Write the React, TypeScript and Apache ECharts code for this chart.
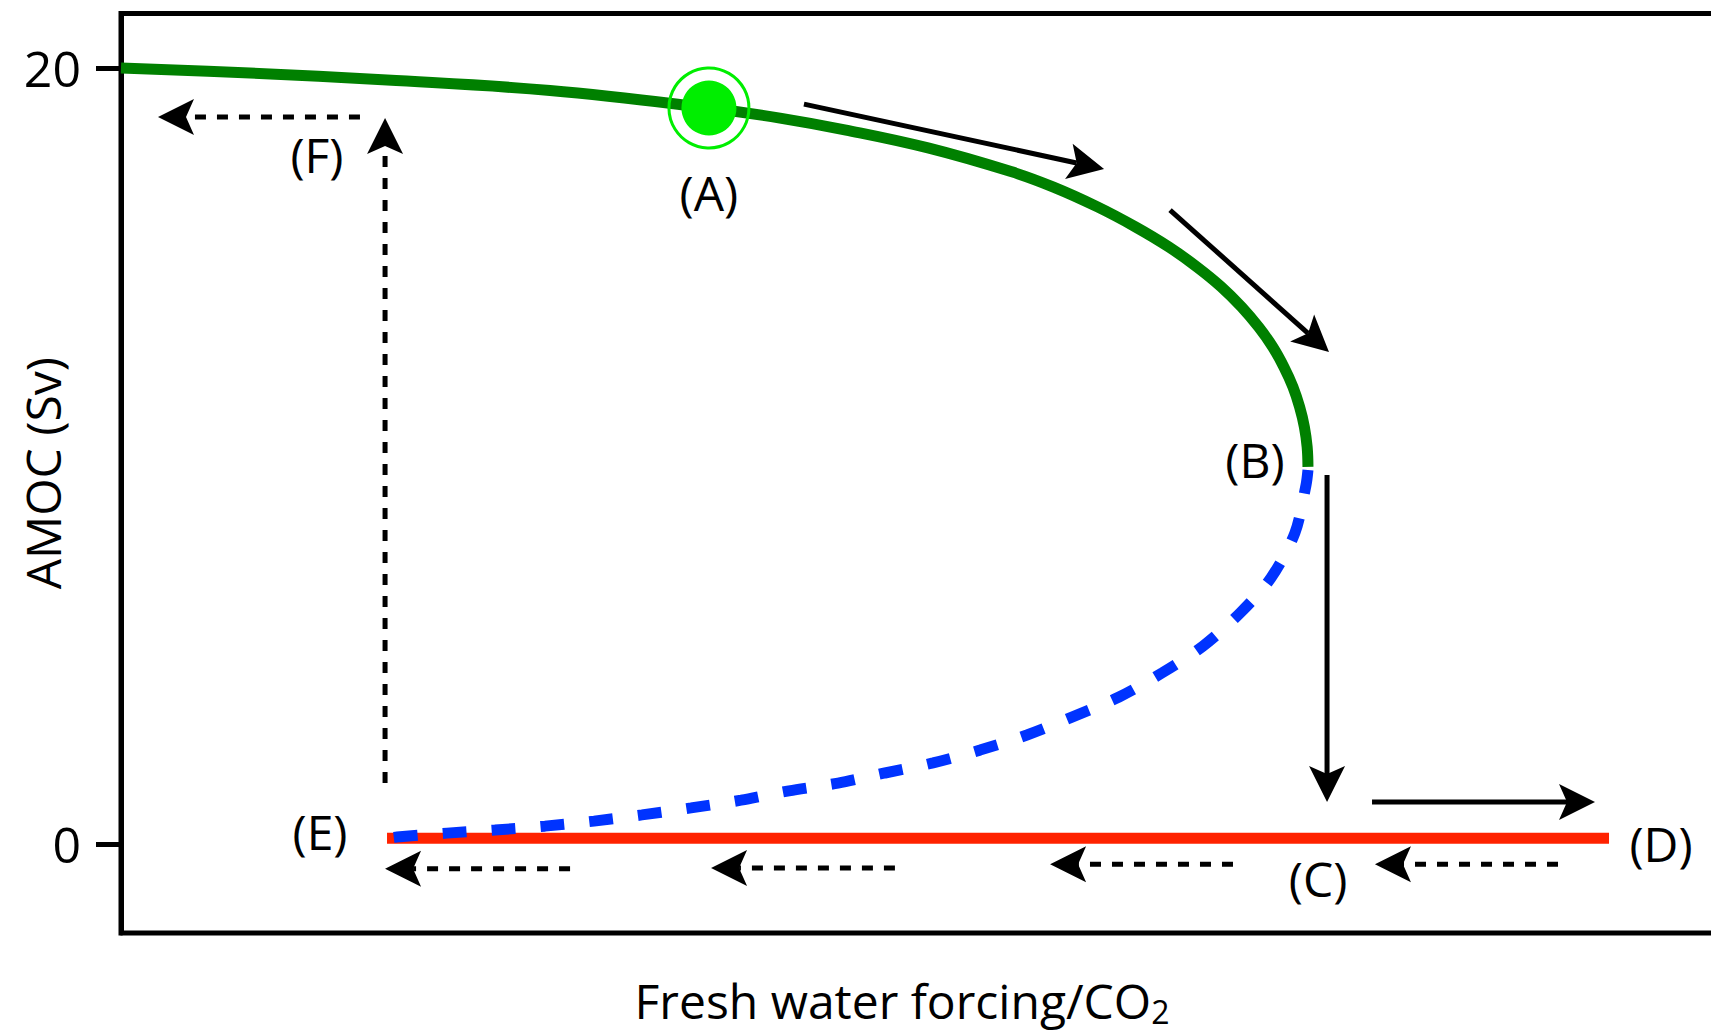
import React, { useEffect, useRef } from 'react';
import * as echarts from 'echarts';

// Axis ticks / range (AMOC in Sv, forcing in arbitrary units)
const yTicks = [0, 20];
const yRange = [-2.294, 21.405];
const xRange = [0, 100];

// Upper stable ("on") branch, green
const onBranch: [number, number][] = [
  [0, 20.0], [7.91, 19.87], [16.32, 19.69], [26.32, 19.42], [36.07, 18.97],
  [40.43, 18.71], [44.48, 18.4], [49.51, 17.94], [54.6, 17.33], [57.21, 16.93],
  [59.91, 16.42], [62.26, 15.9], [64.28, 15.39], [66.02, 14.87], [67.5, 14.36],
  [68.75, 13.84], [69.8, 13.32], [70.66, 12.81], [71.35, 12.29], [71.9, 11.78],
  [72.31, 11.26], [72.6, 10.75], [72.77, 10.23], [72.82, 9.72],
];

// Unstable branch, blue dashed
const unstableBranch: [number, number][] = [
  [72.82, 9.64], [72.7, 9.25], [72.02, 8.02], [70.55, 6.86], [68.65, 5.95], [66.38, 5.1],
  [63.87, 4.41], [61.23, 3.79], [58.34, 3.27], [55.58, 2.81], [52.7, 2.42], [49.82, 2.09],
  [46.87, 1.83], [43.99, 1.57], [40.98, 1.37], [38.04, 1.13], [34.97, 0.93], [31.96, 0.75],
  [29.02, 0.59], [26.01, 0.46], [22.94, 0.36], [20.0, 0.28], [16.93, 0.18], [16.32, 0.15],
];

// Lower stable ("off") branch, red
const offBranch: [number, number][] = [[16.32, 0.15], [91.29, 0.15]];

// Current state (A)
const stateA: [number, number] = [36.07, 18.97];

// Arrows: [xStart, yStart, xEnd, yEnd]
const solidArrows: number[][] = [
  [41.9, 19.07, 60.31, 17.4],
  [64.36, 16.34, 74.11, 12.68],
  [73.99, 9.51, 73.99, 1.08],
  [76.75, 1.08, 90.43, 1.08],
];
const dashedArrows: number[][] = [
  [14.66, 18.74, 2.27, 18.74],
  [16.2, 1.57, 16.2, 18.71],
  [27.55, -0.64, 16.2, -0.64],
  [47.48, -0.62, 36.2, -0.62],
  [68.22, -0.52, 57.0, -0.52],
  [88.16, -0.52, 76.93, -0.52],
];

// Point labels: [x, y, text]
const pointLabels: [number, number, string][] = [
  [36.07, 16.8, '(A)'],
  [69.57, 9.9, '(B)'],
  [73.44, -0.9, '(C)'],
  [94.48, 0.0, '(D)'],
  [12.21, 0.31, '(E)'],
  [12.02, 17.76, '(F)'],
];

const FONT = "'Open Sans', sans-serif";

function makeArrowRenderer(dash: number[] | null) {
  return (_params: any, api: any) => {
    const p1 = api.coord([api.value(0), api.value(1)]);
    const p2 = api.coord([api.value(2), api.value(3)]);
    const dx = p2[0] - p1[0];
    const dy = p2[1] - p1[1];
    const len = Math.hypot(dx, dy) || 1;
    const ux = dx / len;
    const uy = dy / len;
    const nx = -uy;
    const ny = ux;
    const headLen = 36;
    const headHalf = 18;
    const notch = 28;
    const bx = p2[0] - ux * headLen;
    const by = p2[1] - uy * headLen;
    const mx = p2[0] - ux * notch;
    const my = p2[1] - uy * notch;
    return {
      type: 'group',
      children: [
        {
          type: 'line',
          shape: { x1: p1[0], y1: p1[1], x2: mx, y2: my },
          style: { stroke: '#000', lineWidth: 5, lineDash: dash, fill: null },
        },
        {
          type: 'polygon',
          shape: {
            points: [
              [p2[0], p2[1]],
              [bx + nx * headHalf, by + ny * headHalf],
              [mx, my],
              [bx - nx * headHalf, by - ny * headHalf],
            ],
          },
          style: { fill: '#000' },
        },
      ],
    };
  };
}

function renderLabel(params: any, api: any) {
  const p = api.coord([api.value(0), api.value(1)]);
  const item = pointLabels[params.dataIndex];
  return {
    type: 'text',
    x: p[0],
    y: p[1],
    style: {
      text: item[2],
      fill: '#000',
      font: `48px ${FONT}`,
      align: 'center',
      verticalAlign: 'middle',
    },
  };
}

export default function App() {
  const ref = useRef<HTMLDivElement>(null);
  useEffect(() => {
    if (!ref.current) return;
    const chart = echarts.init(ref.current, null, { renderer: 'svg' });
    chart.setOption({
      animation: false,
      backgroundColor: '#fff',
      grid: {
        show: true,
        left: 121,
        top: 13.5,
        bottom: 98,
        right: -40,
        containLabel: false,
        outerBoundsMode: 'none',
        borderColor: '#000',
        borderWidth: 5,
        backgroundColor: 'transparent',
      },
      xAxis: {
        type: 'value',
        min: xRange[0],
        max: xRange[1],
        axisLine: { show: false },
        axisTick: { show: false },
        axisLabel: { show: false },
        splitLine: { show: false },
        name: 'Fresh water forcing/CO{sub|2}',
        nameLocation: 'middle',
        nameGap: 40,
        nameMoveOverlap: false,
        nameTextStyle: {
          fontSize: 48,
          color: '#000',
          fontFamily: FONT,
          padding: [0, 68, 0, 0],
          rich: {
            sub: { fontSize: 32, color: '#000', fontFamily: FONT, padding: [22, 0, 0, 0] },
          },
        },
      },
      yAxis: {
        type: 'value',
        min: yRange[0],
        max: yRange[1],
        axisLine: { show: true, lineStyle: { color: '#000', width: 5 } },
        axisTick: { show: true, length: 25, customValues: yTicks, lineStyle: { color: '#000', width: 5 } },
        axisLabel: { show: true, customValues: yTicks, margin: 40, fontSize: 50, color: '#000', fontFamily: FONT },
        splitLine: { show: false },
        name: 'AMOC (Sv)',
        nameLocation: 'middle',
        nameGap: 55,
        nameMoveOverlap: false,
        nameTextStyle: { fontSize: 48, color: '#000', fontFamily: FONT },
      },
      series: [
        {
          type: 'line',
          data: offBranch,
          showSymbol: false,
          lineStyle: { color: '#ff2200', width: 11, cap: 'butt' },
          z: 2,
        },
        {
          type: 'line',
          data: unstableBranch,
          showSymbol: false,
          smooth: 0.3,
          lineStyle: { color: '#0033ff', width: 11, type: [24, 25], cap: 'butt' },
          z: 3,
        },
        {
          type: 'line',
          data: onBranch,
          showSymbol: false,
          smooth: 0.4,
          lineStyle: { color: '#008000', width: 11, cap: 'butt' },
          z: 3,
        },
        {
          type: 'custom',
          data: solidArrows,
          renderItem: makeArrowRenderer(null),
          clip: false,
          z: 4,
        },
        {
          type: 'custom',
          data: dashedArrows,
          renderItem: makeArrowRenderer([11, 11]),
          clip: false,
          z: 4,
        },
        {
          type: 'scatter',
          data: [stateA],
          symbol: 'circle',
          symbolSize: 80,
          itemStyle: { color: 'rgba(0,0,0,0)', borderColor: '#00ee00', borderWidth: 3, opacity: 1 },
          z: 5,
        },
        {
          type: 'scatter',
          data: [stateA],
          symbol: 'circle',
          symbolSize: 55,
          itemStyle: { color: '#00ee00', opacity: 1 },
          z: 6,
        },
        {
          type: 'custom',
          data: pointLabels.map((l) => [l[0], l[1]]),
          renderItem: renderLabel,
          clip: false,
          z: 7,
        },
      ],
    });
    return () => chart.dispose();
  }, []);
  return (
    <div
      ref={ref}
      style={{ position: 'absolute', left: 0, top: 0, width: 1711, height: 1031 }}
    />
  );
}
